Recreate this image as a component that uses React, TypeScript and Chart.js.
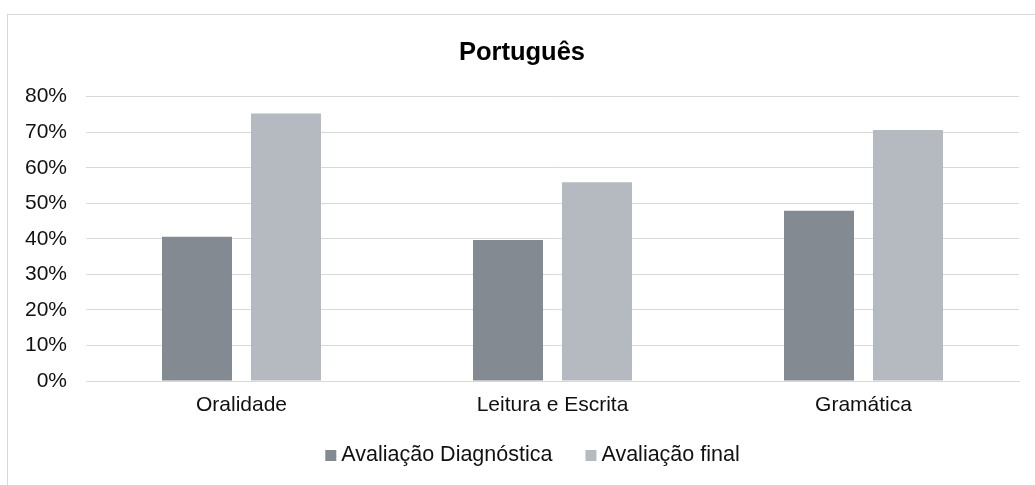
import React, { useEffect, useRef } from "react";
import { Chart, registerables } from "chart.js";

Chart.register(...registerables);

const chartTitle = "Português";
const categories = ["Oralidade", "Leitura e Escrita", "Gramática"];
const seriesNames = ["Avaliação Diagnóstica", "Avaliação final"];
const diagnostica = [40.6, 39.7, 47.9];
const final = [75.3, 55.9, 70.6];
const yTicks = [0, 10, 20, 30, 40, 50, 60, 70, 80];
const seriesColors = ["#848a91", "#b5b9c0"];

const FONT = "'Liberation Sans', Arial, sans-serif";
const TEXT = "#111111";
const GRID = "#d9d9d9";

// Legend drawn under the x axis: small square, short gap, label.
const bottomLegend = {
  id: "bottomLegend",
  afterDraw(chart: any) {
    const ctx = chart.ctx;
    const items = chart.data.datasets.map((d: any) => ({
      text: d.label as string,
      color: d.backgroundColor as string,
    }));
    const box = 11;
    const gap = 5;
    const itemGap = 33;
    const fontSize = 21.5;
    ctx.save();
    ctx.font = `${fontSize}px ${FONT}`;
    const widths = items.map((it: any) => box + gap + ctx.measureText(it.text).width);
    const total = widths.reduce((a: number, b: number) => a + b, 0) + itemGap * (items.length - 1);
    const centerX = 524.5;
    const cy = 440.5;
    let x = centerX - total / 2;
    items.forEach((it: any, i: number) => {
      ctx.fillStyle = it.color;
      ctx.fillRect(x, cy - box / 2, box, box);
      ctx.fillStyle = TEXT;
      ctx.textAlign = "left";
      ctx.textBaseline = "middle";
      ctx.fillText(it.text, x + box + gap, cy);
      x += widths[i] + itemGap;
    });
    ctx.restore();
  },
};

export default function App() {
  const ref = useRef<HTMLCanvasElement | null>(null);

  useEffect(() => {
    if (!ref.current) return;
    const chart = new Chart(ref.current, {
      type: "bar",
      data: {
        labels: categories,
        datasets: [
          {
            label: seriesNames[0],
            data: diagnostica,
            backgroundColor: seriesColors[0],
            borderWidth: 0,
            barPercentage: 0.7865,
            categoryPercentage: 0.5723,
          },
          {
            label: seriesNames[1],
            data: final,
            backgroundColor: seriesColors[1],
            borderWidth: 0,
            barPercentage: 0.7865,
            categoryPercentage: 0.5723,
          },
        ],
      },
      plugins: [bottomLegend],
      options: {
        animation: false,
        responsive: true,
        maintainAspectRatio: false,
        layout: { padding: { left: 17, right: 29, top: 0, bottom: 64 } },
        plugins: {
          title: {
            display: true,
            text: chartTitle,
            color: "#000",
            font: { family: FONT, size: 25.5, weight: "bold" },
            padding: { top: 22.5, bottom: 28.6 },
          },
          legend: { display: false },
          tooltip: { enabled: false },
        },
        scales: {
          x: {
            afterFit: (s: any) => {
              s.height = 40;
            },
            grid: { display: false, drawTicks: false },
            border: { display: true, color: GRID, width: 1 },
            ticks: { color: TEXT, font: { family: FONT, size: 21 }, padding: 11.5 },
          },
          y: {
            min: yTicks[0],
            max: yTicks[yTicks.length - 1],
            afterFit: (s: any) => {
              s.width = 61;
            },
            afterBuildTicks: (s: any) => {
              s.ticks = yTicks.map((v) => ({ value: v }));
            },
            grid: { color: GRID, lineWidth: 1, drawTicks: false },
            border: { display: false },
            ticks: {
              color: TEXT,
              font: { family: FONT, size: 21 },
              padding: 19,
              callback: (v: any) => v + "%",
            },
          },
        },
      },
    });
    return () => chart.destroy();
  }, []);

  return (
    <div
      style={{
        position: "absolute",
        left: 7,
        top: 14,
        width: 1028,
        height: 471,
        boxSizing: "border-box",
        borderLeft: "1px solid #d9d9d9",
        borderTop: "1px solid #d9d9d9",
        background: "#fff",
        overflow: "hidden",
      }}
    >
      <div style={{ position: "relative", width: 1040, height: 470 }}>
        <canvas ref={ref} />
      </div>
    </div>
  );
}
